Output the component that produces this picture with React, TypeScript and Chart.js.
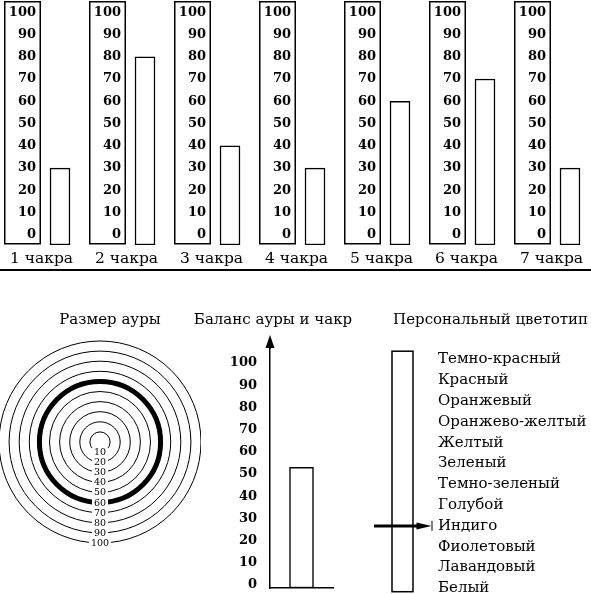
import React, { useEffect, useRef } from 'react';
import { Chart, registerables } from 'chart.js';

Chart.register(...registerables);

// ---------- data ----------
const CHAKRA_NAMES = ['1 чакра', '2 чакра', '3 чакра', '4 чакра', '5 чакра', '6 чакра', '7 чакра'];
const CHAKRA_VALUES = [30, 80, 40, 30, 60, 70, 30];
const SCALE_TICKS = [0, 10, 20, 30, 40, 50, 60, 70, 80, 90, 100];

const AURA_TITLE = 'Размер ауры';
const AURA_RINGS = [10, 20, 30, 40, 50, 60, 70, 80, 90, 100];
const AURA_SIZE = 60;

const BALANCE_TITLE = 'Баланс ауры и чакр';
const BALANCE_VALUES = [53];

const COLOR_TITLE = 'Персональный цветотип';
const COLOR_TYPES = [
  'Темно-красный',
  'Красный',
  'Оранжевый',
  'Оранжево-желтый',
  'Желтый',
  'Зеленый',
  'Темно-зеленый',
  'Голубой',
  'Индиго',
  'Фиолетовый',
  'Лавандовый',
  'Белый',
];
const SELECTED_COLOR = 'Индиго';

// ---------- styling ----------
const FONT = "'DejaVu Serif', serif";
const INK = '#000';
Chart.defaults.font.family = FONT;
Chart.defaults.color = INK;

const TICK_FONT = { size: 13, weight: 'bold', family: FONT };
const TEXT_FONT = { size: 15, weight: 'normal', family: FONT };
const CHAKRA_FONT = { size: 15.5, weight: 'normal', family: FONT };

const setTicks = (values: number[]) => (s: any) => {
  s.ticks = values.map((v) => ({ value: v }));
};
const fitAxis = (width: number) => (s: any) => {
  s.width = width;
  s.paddingTop = 0;
  s.paddingBottom = 0;
};

// caption text drawn at a given place of the canvas
const captionPlugin = {
  id: 'caption',
  afterDraw(chart: any, _a: any, opts: any) {
    if (!opts || !opts.text) return;
    const { ctx } = chart;
    ctx.save();
    ctx.font = `${TEXT_FONT.size}px ${FONT}`;
    ctx.fillStyle = INK;
    ctx.textAlign = 'center';
    ctx.textBaseline = 'middle';
    ctx.fillText(opts.text, opts.x, opts.y);
    ctx.restore();
  },
};

// box around the tick labels of each chakra chart
const tickBoxPlugin = {
  id: 'tickBox',
  afterDraw(chart: any) {
    const { ctx, chartArea } = chart;
    const s = chart.scales.y;
    ctx.save();
    ctx.strokeStyle = INK;
    ctx.lineWidth = 1.5;
    ctx.strokeRect(s.left + 0.75, chartArea.top + 0.75, s.right - s.left - 1.5, chartArea.bottom - chartArea.top - 2);
    ctx.restore();
  },
};

// arrow head on the top of the vertical axis
const axisArrowPlugin = {
  id: 'axisArrow',
  afterDraw(chart: any) {
    const { ctx, chartArea } = chart;
    const x = chart.scales.y.right;
    const y = chartArea.top;
    ctx.save();
    ctx.fillStyle = INK;
    ctx.strokeStyle = INK;
    ctx.lineWidth = 1.5;
    ctx.beginPath();
    ctx.moveTo(x, y + 1);
    ctx.lineTo(x, y - 4);
    ctx.stroke();
    ctx.beginPath();
    ctx.moveTo(x, y - 13);
    ctx.lineTo(x - 4.5, y);
    ctx.lineTo(x + 4.5, y);
    ctx.closePath();
    ctx.fill();
    ctx.restore();
  },
};

// labels sitting on the bottom of each aura ring
const ringLabelPlugin = {
  id: 'ringLabels',
  afterDraw(chart: any) {
    const { ctx } = chart;
    const r = chart.scales.r;
    ctx.save();
    ctx.font = `9.5px ${FONT}`;
    ctx.textAlign = 'center';
    ctx.textBaseline = 'middle';
    AURA_RINGS.forEach((v) => {
      const y = r.yCenter + r.getDistanceFromCenterForValue(v);
      const w = ctx.measureText(String(v)).width;
      ctx.fillStyle = '#fff';
      ctx.fillRect(r.xCenter - w / 2 - 2, y - 4.5, w + 4, 9);
      ctx.fillStyle = INK;
      ctx.fillText(String(v), r.xCenter, y + 0.5);
    });
    ctx.restore();
  },
};

// box of the colour-type scale and the arrow pointing to the selected type
const colorBoxPlugin = {
  id: 'colorBox',
  afterDraw(chart: any, _a: any, opts: any) {
    const { ctx, chartArea } = chart;
    const y = chart.scales.y;
    ctx.save();
    ctx.strokeStyle = INK;
    ctx.fillStyle = INK;
    ctx.lineWidth = 1.5;
    ctx.strokeRect(chartArea.left, chartArea.top - 8.3, chartArea.right - chartArea.left, chartArea.bottom - chartArea.top + 11.7);
    const yy = y.getPixelForValue(COLOR_TYPES.indexOf(opts.selected));
    const tip = chartArea.right + 18.5;
    ctx.lineWidth = 3;
    ctx.beginPath();
    ctx.moveTo(chartArea.left - 18, yy);
    ctx.lineTo(tip - 12, yy);
    ctx.stroke();
    ctx.beginPath();
    ctx.moveTo(tip, yy);
    ctx.lineTo(tip - 15, yy - 3.5);
    ctx.lineTo(tip - 15, yy + 3.5);
    ctx.closePath();
    ctx.fill();
    ctx.lineWidth = 1;
    ctx.beginPath();
    ctx.moveTo(tip + 0.5, yy - 5);
    ctx.lineTo(tip + 0.5, yy + 5);
    ctx.stroke();
    ctx.restore();
  },
};

// ---------- configs ----------
const CHAKRA_MIN = -4.5;
const CHAKRA_MAX = 105;

function chakraConfig(name: string, value: number): any {
  return {
    type: 'bar',
    data: {
      labels: [name],
      datasets: [
        {
          data: [value],
          base: CHAKRA_MIN,
          backgroundColor: '#fff',
          borderColor: INK,
          borderWidth: 1.5,
          borderSkipped: false,
          barThickness: 20,
        },
      ],
    },
    options: {
      animation: false,
      responsive: false,
      layout: { padding: { left: 4, right: 6, top: 1, bottom: 0 } },
      plugins: {
        legend: { display: false },
        tooltip: { enabled: false },
        title: {
          display: true,
          position: 'bottom',
          text: name,
          color: INK,
          font: CHAKRA_FONT,
          padding: { top: 4.8, bottom: 3.6 },
        },
      },
      scales: {
        x: { display: false },
        y: {
          min: CHAKRA_MIN,
          max: CHAKRA_MAX,
          afterBuildTicks: setTicks(SCALE_TICKS),
          afterFit: fitAxis(37),
          grid: { display: false, drawTicks: false },
          border: { display: false },
          ticks: { padding: 5, color: INK, font: TICK_FONT },
        },
      },
    },
    plugins: [tickBoxPlugin],
  };
}

function auraConfig(): any {
  return {
    type: 'radar',
    data: { labels: [], datasets: [] },
    options: {
      animation: false,
      responsive: false,
      layout: { padding: { top: 41, bottom: 19, left: 0, right: 0 } },
      plugins: {
        legend: { display: false },
        tooltip: { enabled: false },
        caption: { text: AURA_TITLE, x: 111, y: 20 },
      },
      scales: {
        r: {
          min: 0,
          max: 100,
          afterBuildTicks: setTicks([0, ...AURA_RINGS]),
          ticks: { display: false },
          angleLines: { display: false },
          pointLabels: { display: false },
          grid: {
            circular: true,
            color: INK,
            lineWidth: (c: any) => (c.tick && c.tick.value === AURA_SIZE ? 5 : 1),
          },
        },
      },
    },
    plugins: [ringLabelPlugin, captionPlugin],
  };
}

const BAL_MIN = -1.35;
const BAL_MAX = 106.75;

function balanceConfig(): any {
  return {
    type: 'bar',
    data: {
      labels: [BALANCE_TITLE],
      datasets: [
        {
          data: BALANCE_VALUES,
          base: BAL_MIN,
          backgroundColor: '#fff',
          borderColor: INK,
          borderWidth: 1.5,
          borderSkipped: false,
          barThickness: 24,
        },
      ],
    },
    options: {
      animation: false,
      responsive: false,
      layout: { padding: { left: 0, right: 23, top: 48, bottom: 6 } },
      plugins: {
        legend: { display: false },
        tooltip: { enabled: false },
        caption: { text: BALANCE_TITLE, x: 83, y: 20 },
      },
      scales: {
        x: {
          display: true,
          grid: { display: false, drawTicks: false },
          ticks: { display: false },
          border: { display: true, color: INK, width: 1.5 },
        },
        y: {
          min: BAL_MIN,
          max: BAL_MAX,
          afterBuildTicks: setTicks(SCALE_TICKS),
          afterFit: fitAxis(80),
          grid: { display: false, drawTicks: false },
          border: { display: true, color: INK, width: 1.5 },
          ticks: { padding: 13, color: INK, font: TICK_FONT },
        },
      },
    },
    plugins: [axisArrowPlugin, captionPlugin],
  };
}

function colorConfig(): any {
  return {
    type: 'bar',
    data: { labels: COLOR_TYPES, datasets: [] },
    options: {
      animation: false,
      responsive: false,
      indexAxis: 'y',
      layout: { padding: { left: 22, right: 3, top: 0, bottom: 5.7 } },
      plugins: {
        legend: { display: false },
        tooltip: { enabled: false },
        title: {
          display: true,
          text: COLOR_TITLE,
          align: 'end',
          color: INK,
          font: TEXT_FONT,
          padding: { top: 11.6, bottom: 29.9 },
        },
        colorBox: { selected: SELECTED_COLOR },
      },
      scales: {
        x: { display: false, min: 0, max: 1 },
        y: {
          type: 'category',
          position: 'right',
          offset: false,
          afterFit: fitAxis(175),
          grid: { display: false, drawTicks: false },
          border: { display: false },
          ticks: { padding: 25, autoSkip: false, color: INK, font: TEXT_FONT },
        },
      },
    },
    plugins: [colorBoxPlugin],
  };
}

// ---------- components ----------
function ChartCanvas(props: { left: number; top: number; width: number; height: number; make: () => any }) {
  const ref = useRef<HTMLCanvasElement>(null);
  useEffect(() => {
    const chart = new Chart(ref.current as HTMLCanvasElement, props.make());
    return () => chart.destroy();
  }, []);
  return (
    <canvas
      ref={ref}
      width={props.width}
      height={props.height}
      style={{ position: 'absolute', left: props.left, top: props.top, width: props.width, height: props.height }}
    />
  );
}

export default function App() {
  return (
    <div
      style={{
        position: 'absolute',
        left: 0,
        top: 0,
        width: 591,
        height: 594,
        overflow: 'hidden',
        background: '#fff',
      }}
    >
      {CHAKRA_NAMES.map((name, i) => (
        <ChartCanvas
          key={name}
          left={85 * i}
          top={0}
          width={85}
          height={272}
          make={() => chakraConfig(name, CHAKRA_VALUES[i])}
        />
      ))}
      <div style={{ position: 'absolute', left: 0, top: 269, width: 591, height: 2, background: INK }} />
      <ChartCanvas left={-1} top={300} width={202} height={262} make={auraConfig} />
      <ChartCanvas left={190} top={300} width={166} height={294} make={balanceConfig} />
      <ChartCanvas left={370} top={300} width={221} height={294} make={colorConfig} />
    </div>
  );
}
